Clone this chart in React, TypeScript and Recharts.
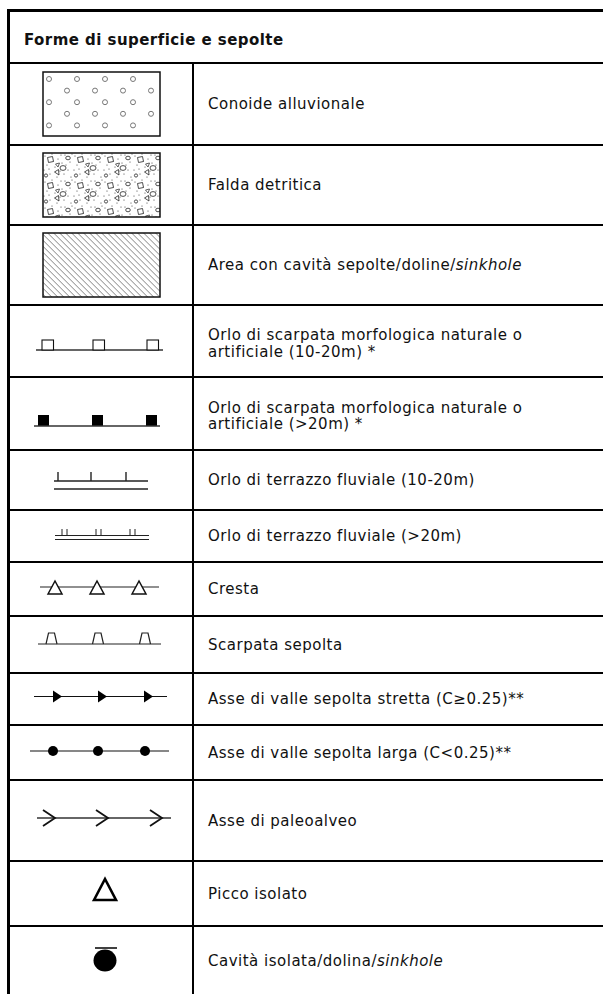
import { ScatterChart, Scatter, XAxis, YAxis, ReferenceLine } from "recharts";

const HEADER = "Forme di superficie e sepolte";

// testo di ogni riga (le parti fra _ sono in corsivo)
const LABELS: string[][] = [
  ["Conoide alluvionale"],
  ["Falda detritica"],
  ["Area con cavità sepolte/doline/_sinkhole_"],
  ["Orlo di scarpata morfologica naturale o", "artificiale (10-20m) *"],
  ["Orlo di scarpata morfologica naturale o", "artificiale (>20m) *"],
  ["Orlo di terrazzo fluviale (10-20m)"],
  ["Orlo di terrazzo fluviale (>20m)"],
  ["Cresta"],
  ["Scarpata sepolta"],
  ["Asse di valle sepolta stretta (C≥0.25)**"],
  ["Asse di valle sepolta larga (C<0.25)**"],
  ["Asse di paleoalveo"],
  ["Picco isolato"],
  ["Cavità isolata/dolina/_sinkhole_"],
];

const SYMBOLS = [
  "conoide",
  "falda",
  "hatch",
  "scarpOpen",
  "scarpFilled",
  "terrazzo1",
  "terrazzo2",
  "cresta",
  "scarpSepolta",
  "asseStretta",
  "asseLarga",
  "paleoalveo",
  "picco",
  "cavita",
];

// layout della tabella (px)
const W = 603;
const H = 994;
const TABLE_TOP = 10.5;
const HEADER_HEIGHT = 52.5;
const ROW_HEIGHTS = [82, 80, 80, 72, 73, 60, 52, 54, 57, 52, 55, 81, 65, 70];
const LEFT = 7;
const DIVIDER_X = 193;
const SYMBOL_X = 101.5;
const TEXT_X = 208;
const FONT = "'DejaVu Sans', Verdana, sans-serif";
const FONT_SIZE = 15;
const SPACING = 0.5;

const boundaries: number[] = [TABLE_TOP + HEADER_HEIGHT];
ROW_HEIGHTS.forEach((h) => boundaries.push(boundaries[boundaries.length - 1] + h));

const rows = LABELS.map((lines, i) => ({
  x: SYMBOL_X,
  y: (boundaries[i] + boundaries[i + 1]) / 2,
  lines,
  symbol: SYMBOLS[i],
}));

const header = [{ x: 24, y: TABLE_TOP + HEADER_HEIGHT / 2, title: HEADER }];

function renderLine(line: string, key: number, x: number, y: number) {
  const parts = line.split("_");
  return (
    <text key={key} x={x} y={y} fontFamily={FONT} fontSize={FONT_SIZE} letterSpacing={SPACING} fill="#111">
      {parts.map((p, j) => (
        <tspan key={j} fontStyle={j % 2 === 1 ? "italic" : "normal"}>
          {p}
        </tspan>
      ))}
    </text>
  );
}

function Symbol({ kind, cx, cy }: { kind: string; cx: number; cy: number }) {
  const ink = "#111";
  const left = cx - 58.5;
  const top = cy - 32;
  switch (kind) {
    case "conoide": {
      const circles = [];
      for (let r = 0; r < 5; r++) {
        for (let c = 0; c < 4; c++) {
          circles.push(
            <circle
              key={`${r}-${c}`}
              cx={left + (r % 2 === 0 ? 6 : 24) + c * 28}
              cy={top + 7 + r * 11.6}
              r={2.5}
              fill="#fff"
              stroke="#777"
              strokeWidth={1}
            />
          );
        }
      }
      return (
        <g>
          <rect x={left} y={top} width={117} height={64} fill="#fff" stroke={ink} strokeWidth={1.5} />
          {circles}
        </g>
      );
    }
    case "falda":
      return (
        <g>
          <defs>
            <pattern id="falda" patternUnits="userSpaceOnUse" x={left} y={top} width={30} height={26}>
              <rect width={30} height={26} fill="#fff" />
              {[
                [2, 3], [9, 1], [15, 6], [22, 2], [27, 9], [4, 12], [12, 14], [19, 10],
                [25, 17], [7, 21], [14, 24], [21, 21], [28, 24], [1, 17], [17, 18], [10, 8],
                [29, 1], [23, 12], [6, 16], [18, 2],
              ].map(([x, y], i) => (
                <circle key={i} cx={x} cy={y} r={0.55} fill="#333" />
              ))}
              <polygon points="4.5,4.5 9.5,3.5 10.5,8.5 5.5,9.5" fill="#fff" stroke="#222" strokeWidth={0.8} />
              <ellipse cx={20} cy={15} rx={3} ry={2.4} fill="#fff" stroke="#222" strokeWidth={0.8} />
              <polygon points="11.5,19 15.5,16.5 16,22" fill="#fff" stroke="#222" strokeWidth={0.8} />
              <ellipse cx={25} cy={5} rx={2.3} ry={1.8} fill="#fff" stroke="#222" strokeWidth={0.8} />
              <circle cx={3} cy={22.5} r={1.6} fill="#fff" stroke="#222" strokeWidth={0.8} />
              <polygon points="12.5,11 16.5,10 15,14" fill="#fff" stroke="#222" strokeWidth={0.7} />
            </pattern>
          </defs>
          <rect x={left} y={top} width={117} height={64} fill="url(#falda)" stroke={ink} strokeWidth={1.5} />
        </g>
      );
    case "hatch":
      return (
        <g>
          <defs>
            <pattern id="hatch" patternUnits="userSpaceOnUse" width={4.24} height={4.24} patternTransform="rotate(-45)">
              <line x1={0} y1={0} x2={0} y2={4.24} stroke="#333" strokeWidth={0.9} />
            </pattern>
          </defs>
          <rect x={left} y={top} width={117} height={64} fill="url(#hatch)" stroke={ink} strokeWidth={1.5} />
        </g>
      );
    case "scarpOpen": {
      const base = cy + 9;
      return (
        <g>
          <line x1={cx - 65.5} y1={base} x2={cx + 61.5} y2={base} stroke="#333" strokeWidth={1.6} />
          {[-59.5, -8.5, 45.5].map((d) => (
            <rect key={d} x={cx + d} y={base - 10} width={11.5} height={10} fill="#fff" stroke={ink} strokeWidth={1.1} />
          ))}
        </g>
      );
    }
    case "scarpFilled": {
      const base = cy + 12.5;
      return (
        <g>
          {[-63.5, -9.5, 44.5].map((d) => (
            <rect key={d} x={cx + d} y={base - 11} width={11} height={11} fill="#000" />
          ))}
          <line x1={cx - 67.5} y1={base} x2={cx + 58.5} y2={base} stroke="#333" strokeWidth={1.6} />
        </g>
      );
    }
    case "terrazzo1": {
      const y1 = cy + 1;
      return (
        <g stroke="#222" strokeWidth={1.4}>
          <line x1={cx - 47.5} y1={y1} x2={cx + 46.5} y2={y1} />
          <line x1={cx - 47.5} y1={y1 + 8} x2={cx + 46.5} y2={y1 + 8} />
          {[-43.5, -10.5, 24.5].map((d) => (
            <line key={d} x1={cx + d} y1={y1 - 9} x2={cx + d} y2={y1} />
          ))}
        </g>
      );
    }
    case "terrazzo2": {
      const y1 = cy - 0.5;
      return (
        <g stroke="#222" strokeWidth={1}>
          <line x1={cx - 46.5} y1={y1} x2={cx + 47.5} y2={y1} />
          <line x1={cx - 46.5} y1={y1 + 4} x2={cx + 47.5} y2={y1 + 4} />
          {[-39.5, -34.5, -5.5, -0.5, 28.5, 33.5].map((d) => (
            <line key={d} x1={cx + d} y1={y1 - 6.5} x2={cx + d} y2={y1} />
          ))}
        </g>
      );
    }
    case "cresta": {
      const ly = cy - 2;
      return (
        <g>
          <line x1={cx - 61.5} y1={ly} x2={cx + 57.5} y2={ly} stroke="#222" strokeWidth={1.2} />
          {[-46.5, -4.5, 37.5].map((d) => (
            <polygon
              key={d}
              points={`${cx + d - 7},${cy + 5} ${cx + d},${cy - 8} ${cx + d + 7},${cy + 5}`}
              fill="#fff"
              stroke={ink}
              strokeWidth={1.5}
            />
          ))}
        </g>
      );
    }
    case "scarpSepolta": {
      const base = cy - 0.5;
      return (
        <g fill="none" stroke="#222" strokeWidth={1.2}>
          <line x1={cx - 63.5} y1={base} x2={cx + 59.5} y2={base} />
          {[-50, -3.5, 43.5].map((d) => (
            <path
              key={d}
              d={`M${cx + d - 5.5},${base} L${cx + d - 3},${base - 11} L${cx + d + 3},${base - 11} L${cx + d + 5.5},${base}`}
            />
          ))}
        </g>
      );
    }
    case "asseStretta": {
      const ly = cy - 2.5;
      return (
        <g>
          <line x1={cx - 67.5} y1={ly} x2={cx + 65.5} y2={ly} stroke="#111" strokeWidth={1.2} />
          {[-48.5, -3.5, 42.5].map((d) => (
            <polygon key={d} points={`${cx + d},${ly - 6} ${cx + d + 9},${ly} ${cx + d},${ly + 6}`} fill="#000" />
          ))}
        </g>
      );
    }
    case "asseLarga": {
      const ly = cy - 1.5;
      return (
        <g>
          <line x1={cx - 71.5} y1={ly} x2={cx + 67.5} y2={ly} stroke="#111" strokeWidth={1.2} />
          {[-48.5, -3.5, 43.5].map((d) => (
            <circle key={d} cx={cx + d} cy={ly} r={5} fill="#000" />
          ))}
        </g>
      );
    }
    case "paleoalveo": {
      const ly = cy - 2.5;
      return (
        <g fill="none" stroke="#111" strokeWidth={1.8}>
          <line x1={cx - 64.5} y1={ly} x2={cx + 69.5} y2={ly} stroke="#333" strokeWidth={1.6} />
          {[-58.5, -5.5, 48.5].map((d) => (
            <path key={d} d={`M${cx + d},${ly - 8} L${cx + d + 12},${ly} L${cx + d},${ly + 8}`} />
          ))}
        </g>
      );
    }
    case "picco":
      return (
        <polygon
          points={`${cx - 7.5},${cy + 6.5} ${cx + 3.5},${cy - 14.5} ${cx + 14.5},${cy + 6.5}`}
          fill="#fff"
          stroke="#000"
          strokeWidth={2.6}
          strokeLinejoin="miter"
        />
      );
    case "cavita":
      return (
        <g>
          <line x1={cx - 6.5} y1={cy - 13} x2={cx + 15.5} y2={cy - 13} stroke="#000" strokeWidth={1.5} />
          <ellipse cx={cx + 3.5} cy={cy - 0.5} rx={11.5} ry={11} fill="#000" />
        </g>
      );
    default:
      return null;
  }
}

function RowShape(props: any) {
  const { cx, cy, payload } = props;
  const lines: string[] = payload.lines;
  const first = lines.length > 1 ? cy - 1 : cy + 5;
  return (
    <g>
      <Symbol kind={payload.symbol} cx={cx} cy={cy} />
      {lines.map((l, i) => renderLine(l, i, TEXT_X, first + i * 16.5))}
    </g>
  );
}

function HeaderShape(props: any) {
  const { cx, cy, payload } = props;
  return (
    <text
      x={cx}
      y={cy + 8}
      fontFamily={FONT}
      fontSize={FONT_SIZE}
      letterSpacing={0.45}
      fontWeight="bold"
      fill="#111"
    >
      {payload.title}
    </text>
  );
}

export default function App() {
  return (
    <div style={{ position: "absolute", left: 0, top: 0, background: "#fff" }}>
      <ScatterChart width={W} height={H} margin={{ top: 0, right: 0, bottom: 0, left: 0 }}>
        <XAxis type="number" dataKey="x" domain={[0, W]} hide />
        <YAxis type="number" dataKey="y" domain={[0, H]} reversed hide />
        {/* bordo superiore e sinistro */}
        <ReferenceLine segment={[{ x: LEFT, y: TABLE_TOP }, { x: W, y: TABLE_TOP }]} stroke="#000" strokeWidth={3} />
        <ReferenceLine segment={[{ x: LEFT + 1.5, y: TABLE_TOP }, { x: LEFT + 1.5, y: H }]} stroke="#000" strokeWidth={3} />
        {boundaries.slice(0, -1).map((b) => (
          <ReferenceLine key={b} segment={[{ x: LEFT, y: b }, { x: W, y: b }]} stroke="#000" strokeWidth={2} />
        ))}
        <ReferenceLine segment={[{ x: DIVIDER_X, y: boundaries[0] }, { x: DIVIDER_X, y: H }]} stroke="#000" strokeWidth={2} />
        <Scatter data={header} shape={HeaderShape} isAnimationActive={false} />
        <Scatter data={rows} shape={RowShape} isAnimationActive={false} />
      </ScatterChart>
    </div>
  );
}
